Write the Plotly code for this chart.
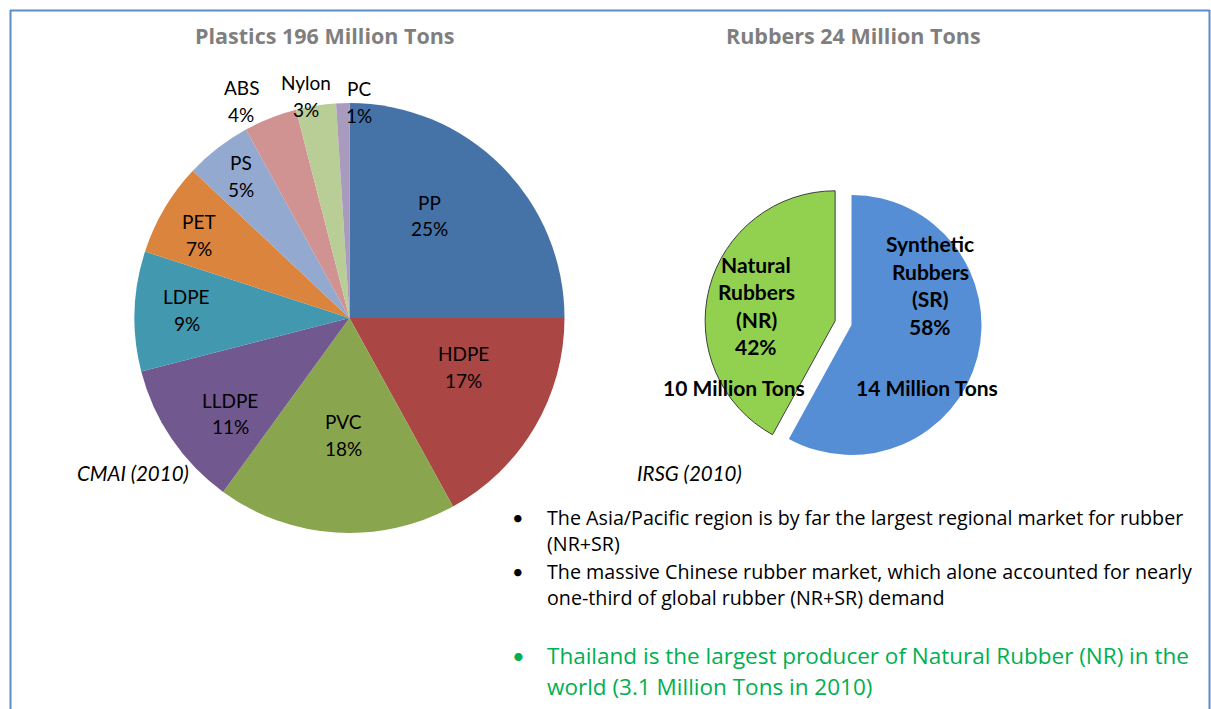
import plotly.graph_objects as go

# ---- data -------------------------------------------------------------
plastic_types = ["PP", "HDPE", "PVC", "LLDPE", "LDPE", "PET", "PS", "ABS", "Nylon", "PC"]
plastic_share = [25, 17, 18, 11, 9, 7, 5, 4, 3, 1]
plastic_colors = ["#4572A7", "#AA4643", "#89A54E", "#71588F", "#4198AF",
                  "#DB843D", "#93A9CF", "#D19392", "#B9CD96", "#A99BBD"]

rubber_types = ["Synthetic<br>Rubbers<br>(SR)", "Natural<br>Rubbers<br>(NR)"]
rubber_share = [58, 42]
rubber_tons = [14, 10]
rubber_colors = ["#558ED5", "#92D050"]
rubber_pull = [0, 0.13]

plastics_title = "Plastics 196 Million Tons"
rubbers_title = "Rubbers 24 Million Tons"

bullets = [
    "The Asia/Pacific region is by far the largest regional market for rubber",
    "(NR+SR)",
    "The massive Chinese rubber market, which alone accounted for nearly",
    "one-third of global rubber (NR+SR) demand",
]
green_bullets = [
    "Thailand is the largest producer of Natural Rubber (NR) in the",
    "world (3.1 Million Tons in 2010)",
]

# ---- canvas helpers ---------------------------------------------------
W, H = 1211, 709
LABEL_FONT = "Lato"
TEXT_FONT = "Open Sans"


def px(x):
    return x / W


def py(y):
    return 1 - y / H


def box_domain(cx, cy, size):
    half = size / 2
    return dict(x=[px(cx - half), px(cx + half)], y=[py(cy + half), py(cy - half)])


fig = go.Figure()

# plastics pie
fig.add_trace(go.Pie(
    labels=plastic_types, values=plastic_share, sort=False, direction="clockwise",
    rotation=0, marker=dict(colors=plastic_colors, line=dict(width=0)),
    textinfo="none", hoverinfo="label+percent",
    domain=box_domain(349.5, 318, 430), showlegend=False,
))

# rubbers pie (natural rubber slice pulled out)
fig.add_trace(go.Pie(
    labels=["Synthetic Rubbers (SR)", "Natural Rubbers (NR)"], values=rubber_share,
    sort=False, direction="clockwise", rotation=0, pull=rubber_pull,
    marker=dict(colors=rubber_colors, line=dict(width=[0, 1], color=["#558ED5", "#3F3F3F"])),
    textinfo="none", hoverinfo="label+percent",
    domain=box_domain(851.5, 325, 130 * 2 * (1 + max(rubber_pull))), showlegend=False,
))

annotations = []


def add_text(x, y, text, size=19, color="black", bold=False, italic=False,
             xanchor="center", family=LABEL_FONT):
    if bold:
        text = f"<b>{text}</b>"
    if italic:
        text = f"<i>{text}</i>"
    annotations.append(dict(
        x=px(x), y=py(y), xref="paper", yref="paper", text=text, showarrow=False,
        xanchor=xanchor, yanchor="middle",
        font=dict(family=family, size=size, color=color),
    ))


# slice label centres for the plastics pie (pixel layout)
plastic_label_pos = [(429.5, 215.5), (463, 366.5), (343, 435), (230, 413.5),
                     (186.7, 310), (199, 235), (240.7, 176), (241, 101),
                     (305.5, 96), (359, 102)]
for name, val, (lx, ly) in zip(plastic_types, plastic_share, plastic_label_pos):
    add_text(lx, ly - 13.5, name)
    add_text(lx, ly + 13.5, f"{val}%")

# rubber labels
rubber_label_pos = [(930, 285), (756, 305.5)]
rubber_tons_pos = [(926.5, 387), (734, 387)]
for name, val, tons, (lx, ly), (tx, ty) in zip(rubber_types, rubber_share, rubber_tons,
                                               rubber_label_pos, rubber_tons_pos):
    lines = name.split("<br>") + [f"{val}%"]
    n = len(lines)
    for i, line in enumerate(lines):
        add_text(lx, ly + (i - (n - 1) / 2) * 27.5, line, size=21, bold=True)
    add_text(tx, ty, f"{tons} Million Tons", size=21, bold=True)

# titles
add_text(325, 35, plastics_title, size=21.5, color="#7F7F7F", bold=True, family=TEXT_FONT)
add_text(853, 35, rubbers_title, size=21.5, color="#7F7F7F", bold=True, family=TEXT_FONT)

# sources
add_text(132.5, 473, "CMAI (2010)", size=20.5, italic=True)
add_text(689, 473, "IRSG (2010)", size=20.5, italic=True)

# bullet notes
bullet_rows = [517, 543, 571, 597]
for i, (row, line) in enumerate(zip(bullet_rows, bullets)):
    if i in (0, 2):
        add_text(518, row, "•", size=20, family=LABEL_FONT)
    add_text(545, row, line, size=19.7, xanchor="left", family=TEXT_FONT)

green_rows = [655, 686]
add_text(518, green_rows[0], "•", size=22, color="#00B050", family=LABEL_FONT)
for row, line in zip(green_rows, green_bullets):
    add_text(545, row, line, size=22.5, color="#00B050", xanchor="left", family=TEXT_FONT)

# frame around the slide area
frame_color = "#5A8AD2"
shapes = [
    dict(type="line", xref="paper", yref="paper", x0=px(10.5), x1=px(10.5), y0=0, y1=py(10),
         line=dict(color=frame_color, width=2)),
    dict(type="line", xref="paper", yref="paper", x0=px(10), x1=px(1210), y0=py(10.5), y1=py(10.5),
         line=dict(color=frame_color, width=2)),
    dict(type="line", xref="paper", yref="paper", x0=px(1209.5), x1=px(1209.5), y0=0, y1=py(10),
         line=dict(color=frame_color, width=2)),
]

fig.update_layout(
    width=W, height=H, margin=dict(l=0, r=0, t=0, b=0),
    paper_bgcolor="white", plot_bgcolor="white",
    annotations=annotations, shapes=shapes,
    font=dict(family=LABEL_FONT),
)

fig.write_html("out.html")
